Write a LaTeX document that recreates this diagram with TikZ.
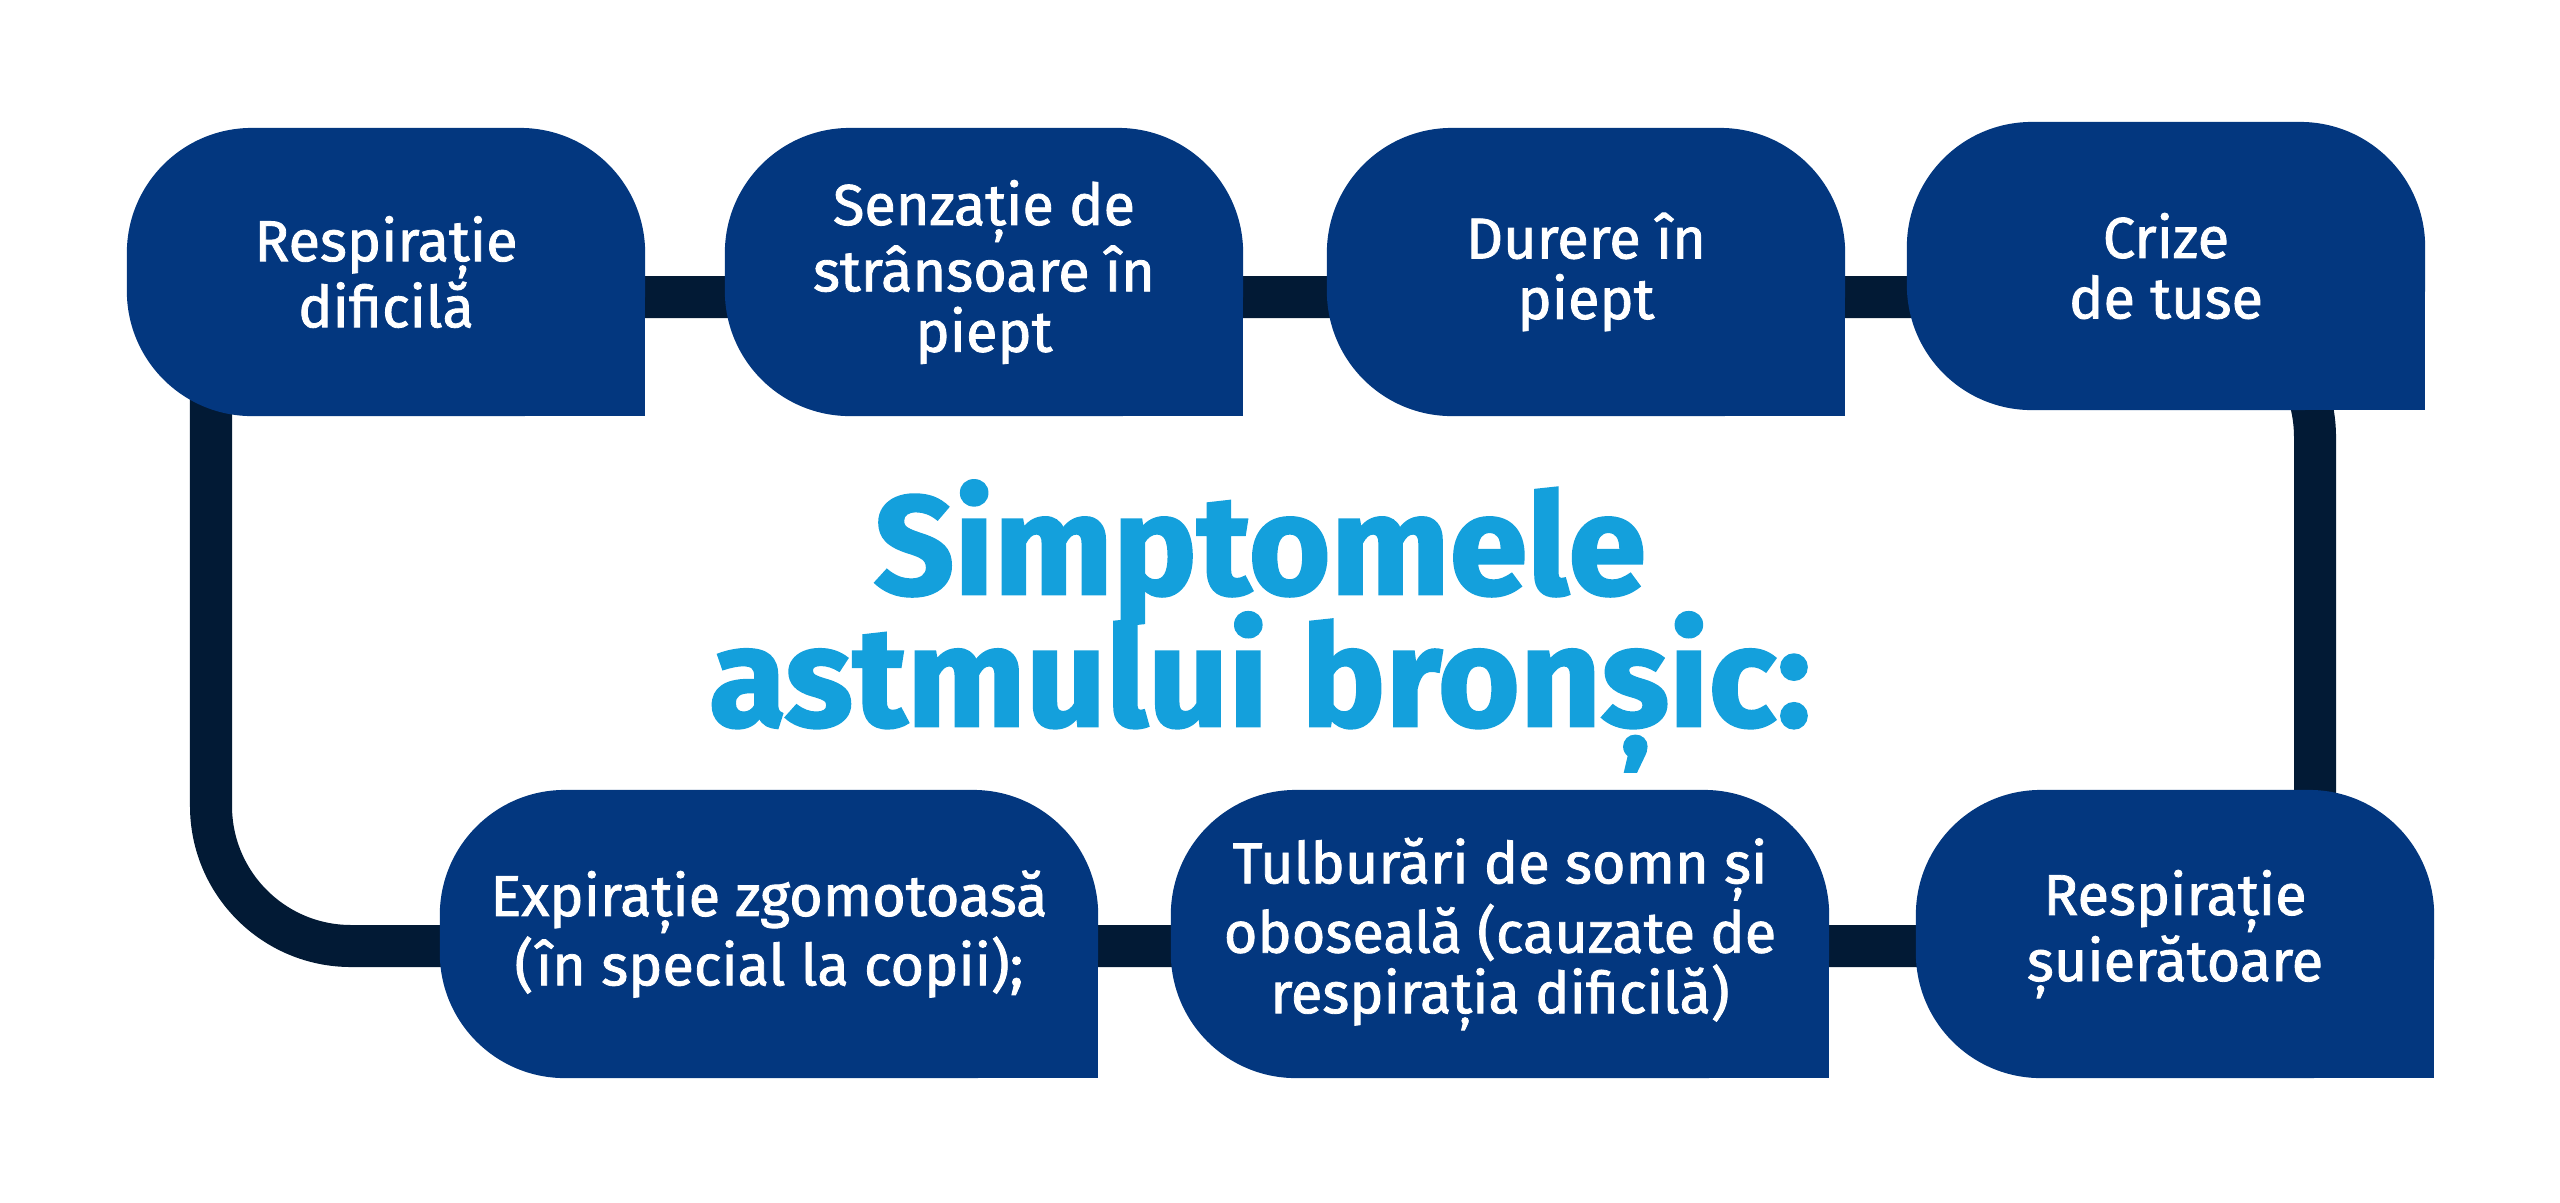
\documentclass[tikz,border=0pt]{standalone}
\usepackage{fontspec}
\setmainfont{Fira Sans}
\newfontfamily\boxfont{Fira Sans}[FakeBold=1.4]
\newfontfamily\titlefont{Fira Sans}[BoldFeatures={FakeBold=1.6}]
\newcommand\tightlines{\lineskiplimit-40pt\relax}
\usetikzlibrary{backgrounds}
\definecolor{boxblue}{HTML}{03377F}
\definecolor{linknavy}{HTML}{021A35}
\definecolor{titlecyan}{HTML}{14A0DC}

\begin{document}
\begin{tikzpicture}[x=0.01cm,y=-0.01cm,
  sym/.style={rectangle,fill=boxblue,text=white,rounded corners=1.25cm,
    minimum width=5.18cm,minimum height=2.88cm,inner sep=0pt,outer sep=0pt,
    align=center,font={\boxfont\fontsize{16.4}{17.2}\selectfont}},
  wide/.style={minimum width=6.58cm},
  link/.style={draw=linknavy,line width=0.42cm,rounded corners=1.4cm}]

\useasboundingbox (0,0) rectangle (2560,1202);

% top row
\node[sym] (resp) at (386,272) {Respirație\\dificilă};
\node[sym] (strans) at (984,272) {Senzație de\\strânsoare în\\piept};
\node[sym] (durere) at (1586,272) {Durere în\\piept};
\node[sym] (tuse) at (2166,266) {Crize\\de tuse};

% bottom row
\node[sym,wide] (expir) at (769,934) {Expirație zgomotoasă\\(în special la copii);};
\node[sym,wide] (somn) at (1500,934) {Tulburări de somn și\\oboseală (cauzate de\\respirația dificilă)};
\node[sym] (suier) at (2175,934) {Respirație\\șuierătoare};

\node[font={\titlefont\bfseries\fontsize{40}{37.5}\selectfont\tightlines},
  text=titlecyan,align=center] (title) at (1260,626) {Simptomele\\astmului bronșic:};

% loop behind the boxes
\coordinate (tl) at (211,297);
\coordinate (tr) at (2315,297);
\coordinate (br) at (2315,946);
\coordinate (bl) at (211,946);

\begin{scope}[on background layer]
\draw[link] (tl) -- (tr) -- (br) -- (bl) -- (tl);
\foreach \n in {resp,strans,durere,tuse,expir,somn,suier}
  \fill[boxblue] (\n.south east) rectangle ++(-130,-130);
\end{scope}

\end{tikzpicture}
\end{document}
